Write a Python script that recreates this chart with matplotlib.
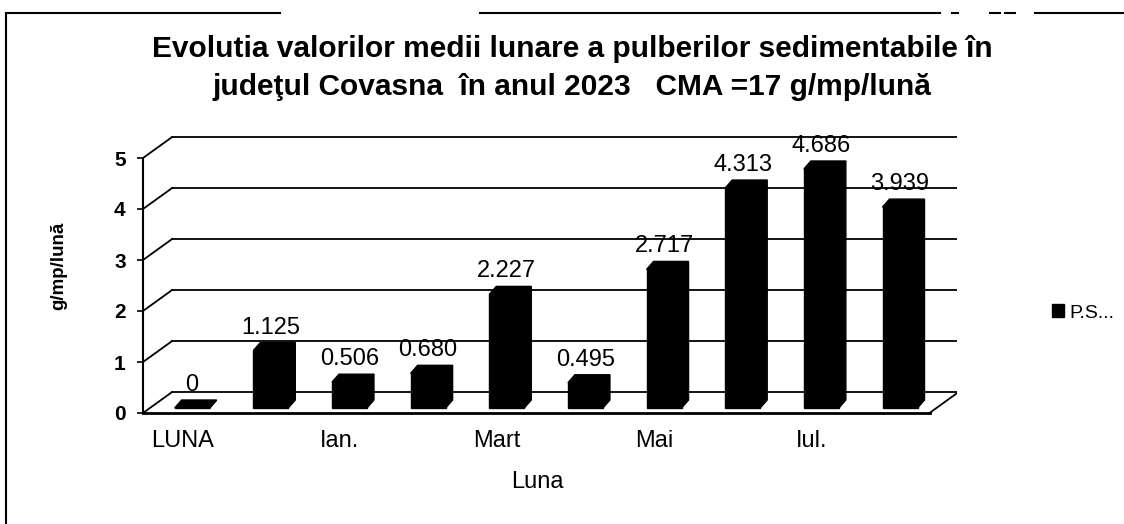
import matplotlib
matplotlib.use('Agg')
import numpy as np
import matplotlib.pyplot as plt
from matplotlib.patches import Polygon

plt.rcParams['font.family'] = ['Liberation Sans', 'DejaVu Sans']

# data
values = [0, 1.125, 0.506, 0.680, 2.227, 0.495, 2.717, 4.313, 4.686, 3.939]
tick_labels = ['LUNA', 'Ian.', 'Mart', 'Mai', 'Iul.']
y_ticks = [0, 1, 2, 3, 4, 5]
series_name = 'P.S...'
title_1 = 'Evolutia valorilor medii lunare a pulberilor sedimentabile în'
title_2 = 'judeţul Covasna  în anul 2023   CMA =17 g/mp/lună'
x_title = 'Luna'
y_title = 'g/mp/lună'

W, H = 1124, 524
fig = plt.figure(figsize=(W / 100, H / 100), dpi=100)
fig.patch.set_facecolor('white')

# front plane of the 3d box, in pixels
left_px, right_px, floor_px, top_px = 143, 957, 413, 127
ax = fig.add_axes([left_px / W, 1 - floor_px / H,
                   (right_px - left_px) / W, (floor_px - top_px) / H])
ax.set_xlim(-0.5, -0.5 + (right_px - left_px) / 78.65)
ax.set_ylim(0, (floor_px - top_px) / 51.0)
ax.patch.set_alpha(0)

n = len(values)
# depth of the box (back wall) and of each bar, in data units
dx, dy = 0.369, 0.41
bdx, bdy = 0.089, 0.157
bar_w = 0.445
shift_x, base = 0.125, 0.098

# back wall grid and left wall diagonals
for v in y_ticks:
    ax.plot([-0.5 + dx, n - 0.5 + dx], [v + dy, v + dy], color='black', lw=1.3, zorder=1)
    ax.plot([-0.5, -0.5 + dx], [v, v + dy], color='black', lw=1.3, zorder=1)
# right floor edge
ax.plot([n - 0.5, n - 0.5 + dx], [0, dy], color='black', lw=1.3, zorder=1)

x = np.arange(n) + shift_x
bars = ax.bar(x, values, width=bar_w, bottom=base, color='black', edgecolor='black',
              linewidth=1, zorder=3, label=series_name)

for xi, v in zip(x, values):
    xl, xr = xi - bar_w / 2, xi + bar_w / 2
    top = base + v
    side = Polygon([(xr, base), (xr + bdx, base + bdy), (xr + bdx, top + bdy), (xr, top)],
                   closed=True, facecolor='black', edgecolor='black', lw=1, zorder=3)
    lid = Polygon([(xl, top), (xl + bdx, top + bdy), (xr + bdx, top + bdy), (xr, top)],
                  closed=True, facecolor='black', edgecolor='black', lw=1, zorder=3)
    ax.add_patch(side)
    ax.add_patch(lid)
    txt = '0' if v == 0 else f'{v:.3f}'
    ax.text(xi, top + bdy + 0.08, txt, ha='center', va='bottom', fontsize=17, zorder=4)

# axes lines
for s in ['top', 'right']:
    ax.spines[s].set_visible(False)
ax.spines['left'].set_bounds(0, 5)
ax.spines['left'].set_linewidth(1.5)
ax.spines['bottom'].set_bounds(-0.5, n - 0.5)
ax.spines['bottom'].set_linewidth(2)

ax.set_yticks(y_ticks)
ax.set_yticklabels([str(t) for t in y_ticks], fontweight='bold')
ax.tick_params(axis='y', direction='out', length=4.5, width=1.2, pad=8, labelsize=15)
ax.set_xticks(np.arange(0, n, 2))
ax.set_xticklabels(tick_labels)
ax.tick_params(axis='x', length=0, pad=12, labelsize=17)

ax.set_xlabel(x_title, fontsize=17)
ax.xaxis.set_label_coords((537 - left_px) / (right_px - left_px), (floor_px - 471) / (floor_px - top_px))
ax.set_ylabel(y_title, fontsize=13.5, fontweight='bold')
ax.yaxis.set_label_coords((67 - left_px) / (right_px - left_px), (floor_px - 266) / (floor_px - top_px))

fig.text(572 / W, 1 - 57 / H, title_1, ha='center', va='baseline', fontsize=21.5, fontweight='bold')
fig.text(572 / W, 1 - 95 / H, title_2, ha='center', va='baseline', fontsize=21.5, fontweight='bold')

fig.legend(handles=[bars], labels=[series_name], loc='center left',
           bbox_to_anchor=(1052 / W, 1 - 313 / H), frameon=False, fontsize=14,
           handlelength=0.6, handleheight=0.6, handletextpad=0.3, borderpad=0, borderaxespad=0)

# scanned page border
fig.add_artist(plt.Line2D([6 / W, 6 / W], [0, 1 - 13 / H], color='black', lw=1.5))
for a, b in [(6, 280), (480, 940), (952, 958), (990, 1000), (1005, 1015), (1035, 1124)]:
    fig.add_artist(plt.Line2D([a / W, b / W], [1 - 13 / H, 1 - 13 / H], color='black', lw=1.5))

fig.savefig('out.png', dpi=100)
